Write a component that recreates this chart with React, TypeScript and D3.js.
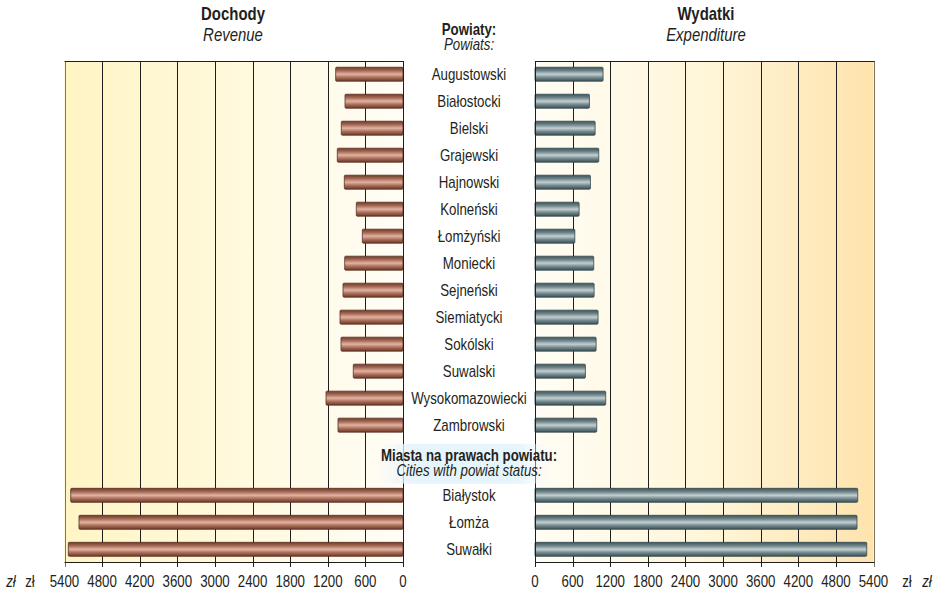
import React from "react";
import * as d3 from "d3";

const powiaty = [
  "Augustowski", "Białostocki", "Bielski", "Grajewski", "Hajnowski", "Kolneński",
  "Łomżyński", "Moniecki", "Sejneński", "Siemiatycki", "Sokólski", "Suwalski",
  "Wysokomazowiecki", "Zambrowski",
];
const powiatyRevenue = [1074, 925, 984, 1048, 936, 745, 649, 930, 957, 1005, 989, 793, 1228, 1037];
const powiatyExpenditure = [1086, 868, 959, 1017, 884, 704, 635, 937, 943, 1006, 975, 804, 1128, 985];

const cities = ["Białystok", "Łomża", "Suwałki"];
const citiesRevenue = [5301, 5169, 5339];
const citiesExpenditure = [5148, 5137, 5292];

const tickValues = [0, 600, 1200, 1800, 2400, 3000, 3600, 4200, 4800, 5400];

const W = 939;
const H = 589;
const FONT = "'Liberation Sans', Arial, Helvetica, sans-serif";
const SX = 0.83;

function NText(props: {
  x: number; y: number; size: number; bold?: boolean; italic?: boolean;
  anchor?: string; dy?: string; children: React.ReactNode;
}) {
  const { x, y, size, bold, italic, anchor = "middle", dy, children } = props;
  return (
    <text
      transform={`translate(${x},${y}) scale(${SX},1)`}
      dy={dy}
      textAnchor={anchor}
      fontSize={size}
      fontWeight={bold ? "bold" : "normal"}
      fontStyle={italic ? "italic" : "normal"}
      fill="#231f20"
    >
      {children}
    </text>
  );
}

export default function App() {
  const top = 61;
  const bottom = 562;
  const xL = d3.scaleLinear().domain([0, 5400]).range([403, 64.5]);
  const xR = d3.scaleLinear().domain([0, 5400]).range([535, 873.5]);
  const y = d3.scaleLinear().domain([-0.49, 18.07]).range([top, bottom]);

  const rows = [
    ...powiaty.map((name, i) => ({ name, pos: i, rev: powiatyRevenue[i], exp: powiatyExpenditure[i] })),
    ...cities.map((name, j) => ({ name, pos: 15.6 + j, rev: citiesRevenue[j], exp: citiesExpenditure[j] })),
  ];
  const headerPos = 14.43;
  const barH = 14;
  const midX = (xL(0) + xR(0)) / 2;
  const fs = 16;

  return (
    <svg width={W} height={H} style={{ position: "absolute", left: 0, top: 0, fontFamily: FONT }}>
      <defs>
        <linearGradient id="bgL" x1="0" y1="0" x2="1" y2="0">
          <stop offset="0" stopColor="#fff5c4" />
          <stop offset="1" stopColor="#fffdf6" />
        </linearGradient>
        <linearGradient id="bgR" x1="0" y1="0" x2="1" y2="0">
          <stop offset="0" stopColor="#fffdf4" />
          <stop offset="0.5" stopColor="#fff6da" />
          <stop offset="1" stopColor="#fee3ad" />
        </linearGradient>
        <linearGradient id="barBrown" x1="0" y1="0" x2="0" y2="1">
          <stop offset="0" stopColor="#6e3b2b" />
          <stop offset="0.25" stopColor="#a66a55" />
          <stop offset="0.5" stopColor="#e2b3a2" />
          <stop offset="0.75" stopColor="#a66a55" />
          <stop offset="1" stopColor="#6a3828" />
        </linearGradient>
        <linearGradient id="barGray" x1="0" y1="0" x2="0" y2="1">
          <stop offset="0" stopColor="#3e545a" />
          <stop offset="0.25" stopColor="#6f8589" />
          <stop offset="0.5" stopColor="#c3cfd2" />
          <stop offset="0.75" stopColor="#6f8589" />
          <stop offset="1" stopColor="#3b5056" />
        </linearGradient>
        <linearGradient id="hdrBlue" x1="0" y1="0" x2="1" y2="0">
          <stop offset="0" stopColor="#eaf6fc" stopOpacity="0" />
          <stop offset="0.2" stopColor="#e6f4fb" stopOpacity="1" />
          <stop offset="0.8" stopColor="#e6f4fb" stopOpacity="1" />
          <stop offset="1" stopColor="#eaf6fc" stopOpacity="0" />
        </linearGradient>
      </defs>

      {/* backgrounds */}
      <rect x={xL(5400)} y={top} width={xL(0) - xL(5400)} height={bottom - top} fill="url(#bgL)" />
      <rect x={xR(0)} y={top} width={xR(5400) - xR(0)} height={bottom - top} fill="url(#bgR)" />

      {/* grid lines + ticks */}
      {tickValues.map((t) => (
        <line key={"gl" + t} x1={Math.round(xL(t)) + 0.5} x2={Math.round(xL(t)) + 0.5} y1={top} y2={bottom + 5}
          stroke={t === 5400 ? "#7d7464" : "#1e1e1e"} strokeWidth={1} />
      ))}
      {tickValues.map((t) => (
        <line key={"gr" + t} x1={Math.round(xR(t)) + 0.5} x2={Math.round(xR(t)) + 0.5} y1={top} y2={bottom + 5}
          stroke={t === 5400 ? "#7d7464" : "#1e1e1e"} strokeWidth={1} />
      ))}
      {/* top and bottom borders */}
      <line x1={xL(5400)} x2={xL(0) + 1} y1={top + 0.5} y2={top + 0.5} stroke="#1e1e1e" />
      <line x1={xR(0)} x2={xR(5400) + 1} y1={top + 0.5} y2={top + 0.5} stroke="#1e1e1e" />
      <line x1={xL(5400)} x2={xL(0) + 1} y1={bottom + 0.5} y2={bottom + 0.5} stroke="#1e1e1e" />
      <line x1={xR(0)} x2={xR(5400) + 1} y1={bottom + 0.5} y2={bottom + 0.5} stroke="#1e1e1e" />

      {/* header background for cities */}
      <rect x={378} y={y(headerPos) - 20} width={172} height={40} fill="url(#hdrBlue)" />

      {/* bars */}
      {rows.map((r) => (
        <g key={"b" + r.name}>
          <rect x={xL(r.rev)} y={y(r.pos) - barH / 2} width={xL(0) - xL(r.rev)} height={barH}
            fill="url(#barBrown)" stroke="#5a2f22" strokeWidth={0.8} rx={1} />
          <rect x={xR(0)} y={y(r.pos) - barH / 2} width={xR(r.exp) - xR(0)} height={barH}
            fill="url(#barGray)" stroke="#34474d" strokeWidth={0.8} rx={1} />
        </g>
      ))}

      {/* zero lines drawn on top */}
      <line x1={Math.round(xL(0)) + 0.5} x2={Math.round(xL(0)) + 0.5} y1={top} y2={y(headerPos) - 20} stroke="#1e1e1e" />
      <line x1={Math.round(xL(0)) + 0.5} x2={Math.round(xL(0)) + 0.5} y1={y(headerPos) + 20} y2={bottom + 5} stroke="#1e1e1e" />
      <line x1={Math.round(xR(0)) + 0.5} x2={Math.round(xR(0)) + 0.5} y1={top} y2={y(headerPos) - 20} stroke="#1e1e1e" />
      <line x1={Math.round(xR(0)) + 0.5} x2={Math.round(xR(0)) + 0.5} y1={y(headerPos) + 20} y2={bottom + 5} stroke="#1e1e1e" />

      {/* row labels */}
      {rows.map((r) => (
        <NText key={"t" + r.name} x={midX} y={y(r.pos)} dy="0.36em" size={fs}>
          {r.name}
        </NText>
      ))}

      {/* cities header */}
      <NText x={midX} y={y(headerPos) - 3} size={fs} bold>Miasta na prawach powiatu:</NText>
      <NText x={midX} y={y(headerPos) + 12} size={fs} italic>Cities with powiat status:</NText>

      {/* top headers */}
      <NText x={233} y={20} size={18} bold>Dochody</NText>
      <NText x={233} y={41} size={18} italic>Revenue</NText>
      <NText x={706} y={20} size={18} bold>Wydatki</NText>
      <NText x={706} y={41} size={18} italic>Expenditure</NText>
      <NText x={midX} y={35} size={fs} bold>Powiaty:</NText>
      <NText x={midX} y={50} size={fs} italic>Powiats:</NText>

      {/* tick labels */}
      {tickValues.map((t) => (
        <NText key={"tl" + t} x={xL(t)} y={587} size={fs}>{t}</NText>
      ))}
      {tickValues.map((t) => (
        <NText key={"tr" + t} x={xR(t)} y={587} size={fs}>{t}</NText>
      ))}

      {/* currency units */}
      <NText x={11} y={587} size={fs} italic>zł</NText>
      <NText x={30} y={587} size={fs}>zł</NText>
      <NText x={907} y={587} size={fs}>zł</NText>
      <NText x={927} y={587} size={fs} italic>zł</NText>
    </svg>
  );
}
